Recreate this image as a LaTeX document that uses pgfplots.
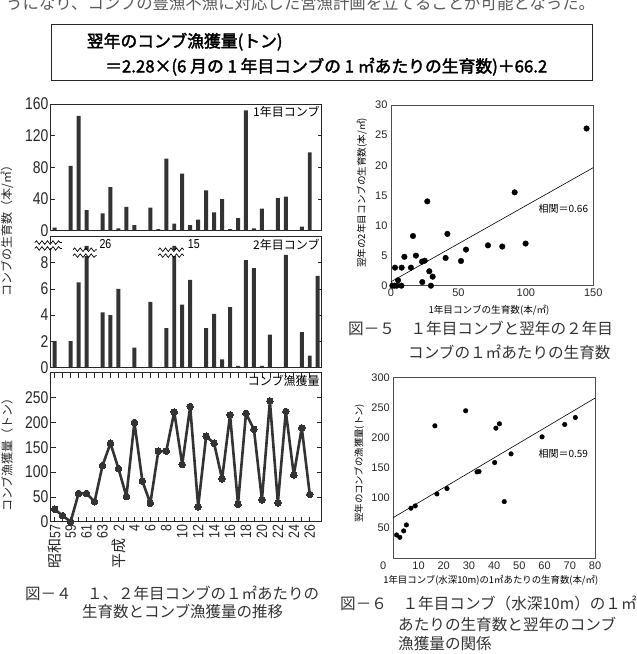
\documentclass[border=0pt]{standalone}
\usepackage{pgfplots}
\pgfplotsset{compat=1.18}
\usepackage{fontspec}
\setmainfont{Liberation Sans}
\newfontfamily\jp{Noto Sans CJK JP}
\newfontfamily\jpb[FakeBold=2.2]{Noto Sans CJK JP}
\newfontfamily\narrow[FakeStretch=0.82]{Liberation Sans}
\usetikzlibrary{decorations.pathmorphing}
\definecolor{barc}{HTML}{333333}
\newcommand{\brk}[4]{%
  \fill[white] (axis cs:#1,#3) rectangle (axis cs:#2,#4);
  \draw[line width=0.7pt, decorate, decoration={snake, amplitude=1.8pt, segment length=5.5pt}] (axis cs:#1,#3) -- (axis cs:#2,#3);
  \draw[line width=0.7pt, decorate, decoration={snake, amplitude=1.8pt, segment length=5.5pt}] (axis cs:#1,#4) -- (axis cs:#2,#4);}
\pgfplotsset{
  leftpanel/.style={anchor=south west, scale only axis, width=271pt,
    xmin=-0.5, xmax=33.5, ymin=0, tick align=inside, major tick length=4pt,
    axis line style={line width=0.9pt, black!85},
    tick style={line width=0.7pt, black!85},
    /pgf/number format/assume math mode=true,
    yticklabel style={font=\narrow\fontsize{17}{17}\selectfont, inner sep=2pt, text=black!85}},
  rightpanel/.style={anchor=south west, scale only axis, clip=false,
    tick style={draw=none},
    axis line style={line width=0.6pt, black!70},
    /pgf/number format/assume math mode=true,
    ticklabel style={font=\fontsize{11}{11}\selectfont, text=black!85}},
}
\begin{document}
\begin{tikzpicture}
\useasboundingbox (0pt,0pt) rectangle (637pt,654pt);

% clipped sentence at top
\node[anchor=west, inner sep=0pt, text=black!65, font=\jp\fontsize{16.4}{18}\selectfont] at (6pt,650.5pt) {うになり、コンブの豊漁不漁に対応した営漁計画を立てることが可能となった。};

% formula box
\draw[line width=0.8pt, black!85] (51.7pt,574pt) rectangle (592.7pt,630pt);
\node[anchor=west, inner sep=0pt, font=\jpb\fontsize{16.8}{18}\selectfont] at (86.7pt,612.3pt) {翌年のコンブ漁獲量(トン)};
\node[anchor=west, inner sep=0pt, font=\jpb\fontsize{16.8}{18}\selectfont] at (105pt,587.3pt) {＝2.28×(6 月の 1 年目コンブの 1 ㎡あたりの生育数)＋66.2};

% ---------- panel 1: first-year kelp ----------
\begin{axis}[leftpanel, at={(50.7pt,423.3pt)}, height=126.7pt, ymax=160,
  ytick={0,40,...,160}, xtick=\empty, ybar, bar width=0.5]
\addplot[fill=barc, draw=none] coordinates {
(0,4) (1,0) (2,82) (3,145) (4,26) (5,0) (6,22) (7,55) (8,3) (9,30) (10,7)
(11,0) (12,29) (13,2) (14,91) (15,9) (16,72) (17,7) (18,14) (19,51) (20,23)
(21,40) (22,2) (23,16) (24,152) (25,3) (26,28) (27,1) (28,41) (29,43) (30,0)
(31,5) (32,99)};
\node[anchor=north east, inner sep=2pt, font=\jp\fontsize{12}{12}\selectfont] at (rel axis cs:1,1) {1年目コンブ};
\end{axis}

% ---------- panel 2: second-year kelp ----------
\begin{axis}[leftpanel, at={(50.7pt,286.7pt)}, height=130.6pt, ymax=10,
  ytick={0,2,...,8}, xtick=\empty, ybar, bar width=0.5, clip=false]
\addplot[fill=barc, draw=none] coordinates {
(0,2.0) (1,0) (2,2.0) (3,6.5) (4,9.3) (5,0) (6,4.2) (7,4.0) (8,6.0) (9,0)
(10,1.5) (11,0) (12,5.0) (13,0) (14,3.0) (15,9.3) (16,4.8) (17,6.7) (18,0)
(19,3.0) (20,4.1) (21,0.6) (22,4.6) (23,0.1) (24,8.2) (25,7.6) (26,0.1)
(27,2.5) (28,0) (29,8.6) (30,0) (31,2.7) (32,0.9) (33,7.0)};
\brk{2.3}{5.3}{8.55}{9.0}
\brk{13.0}{16.2}{8.55}{9.0}
\brk{-2.5}{0.9}{9.1}{9.55}
\node[anchor=west, inner sep=0pt, font=\narrow\fontsize{13}{13}\selectfont] at (axis cs:5.6,9.45) {26};
\node[anchor=west, inner sep=0pt, font=\narrow\fontsize{13}{13}\selectfont] at (axis cs:16.7,9.45) {15};
\node[anchor=north east, inner sep=2pt, font=\jp\fontsize{12}{12}\selectfont] at (rel axis cs:1,1) {2年目コンブ};
\end{axis}

% ---------- panel 3: catch ----------
\begin{axis}[leftpanel, at={(50.7pt,132.3pt)}, height=149pt, ymax=300,
  ytick={0,50,...,250}, clip=false, major tick length=5pt,
  xtick={0,...,32},
  xticklabels={{\jp 昭和}57,,59,,61,,63,,{\jp 平成}\phantom{0}2,,4,,6,,8,,10,,12,,14,,16,,18,,20,,22,,24,,26},
  xticklabel style={rotate=90, anchor=east, inner sep=3pt, font=\narrow\fontsize{15}{15}\selectfont, text=black!85}]
\addplot[line width=2.6pt, color=barc, line join=round, line cap=round, mark=*, mark size=3.3pt, mark options={fill=barc, draw=barc, line width=0pt}] coordinates {
(0,25) (1,12) (2,0) (3,57) (4,57) (5,40) (6,113) (7,158) (8,107) (9,51)
(10,200) (11,82) (12,37) (13,142) (14,142) (15,221) (16,115) (17,232) (18,30)
(19,172) (20,158) (21,86) (22,215) (23,35) (24,218) (25,186) (26,44) (27,243)
(28,38) (29,222) (30,94) (31,189) (32,55)};
\node[anchor=north east, inner sep=2pt, font=\jp\fontsize{12}{12}\selectfont] at (rel axis cs:1,1) {コンブ漁獲量};
\end{axis}

% left y labels
\node[rotate=90, font=\jp\fontsize{12}{12}\selectfont, text=black!85] at (7pt,426pt) {コンブの生育数（本/㎡）};
\node[rotate=90, font=\jp\fontsize{12}{12}\selectfont, text=black!85] at (7pt,202pt) {コンブ漁獲量（トン）};

% ---------- Fig 5 ----------
\begin{axis}[rightpanel, at={(391pt,368.3pt)}, width=202.3pt, height=180.7pt,
  xmin=0, xmax=150, ymin=0, ymax=30, xtick={0,50,100,150}, ytick={0,5,...,30}]
\addplot[only marks, mark=*, mark size=2.8pt, black] coordinates {
(145,26.1) (91.7,15.5) (26.9,14.0) (16.3,8.25) (41.8,8.6) (71.9,6.7) (82.5,6.5)
(99.8,7.0) (55.6,6.0) (18.5,5.0) (9.9,4.8) (40.5,4.6) (51.9,4.1) (23,4.0)
(25,4.15) (3,3.0) (7.9,3.0) (14.8,3.0) (28.4,2.4) (30.9,1.5) (5.2,0.9)
(23.2,0.6) (1,0) (2.5,0) (4.2,0) (7.7,0) (29.6,0)};
\addplot[black, line width=0.6pt] coordinates {(0,0.66) (150,19.6)};
\node[font=\jp\fontsize{10}{10}\selectfont] at (axis cs:127.8,12.85) {相関＝0.66};
\end{axis}
\node[rotate=90, font=\jp\fontsize{9.6}{10}\selectfont] at (362pt,461pt) {翌年の2年目コンブの生育数(本/㎡)};
\node[font=\jp\fontsize{9.6}{10}\selectfont] at (489pt,344pt) {1年目コンブの生育数(本/㎡)};

% ---------- Fig 6 ----------
\begin{axis}[rightpanel, at={(393.3pt,95.7pt)}, width=201.7pt, height=181pt,
  xmin=0, xmax=80, ymin=0, ymax=300, xtick={0,10,...,80}, ytick={50,100,...,300},
  xticklabels={\llap{0\hspace{7pt}},10,20,30,40,50,60,70,80}]
\addplot[only marks, mark=*, mark size=2.3pt, black] coordinates {
(28.7,244.5) (16.5,219.6) (40.7,215.7) (42.1,222.9) (72.2,233.4) (68,221.8)
(59,201.3) (46.7,173.1) (40.2,158.7) (33.2,143.3) (34,143.8) (21.3,115.6)
(17.3,106.7) (44,94) (8.7,86.8) (7,83) (5.2,55.3) (4.1,45.4) (1.3,38.7) (2.6,34.8)};
\addplot[black, line width=0.6pt] coordinates {(0,67.5) (80,265.5)};
\node[font=\jp\fontsize{10}{10}\selectfont] at (axis cs:67.4,172.9) {相関＝0.59};
\end{axis}
\node[rotate=90, font=\jp\fontsize{9.4}{10}\selectfont] at (359.3pt,190.7pt) {翌年のコンブの漁獲量(トン)};
\node[font=\jp\fontsize{9.4}{10}\selectfont] at (490.8pt,74pt) {1年目コンブ(水深10m)の1㎡あたりの生育数(本/㎡)};

% captions
\node[anchor=west, inner sep=0pt, text=black!80, font=\jp\fontsize{15.5}{18}\selectfont] at (25pt,61pt) {図－４　１、２年目コンブの１㎡あたりの};
\node[anchor=west, inner sep=0pt, text=black!80, font=\jp\fontsize{15.5}{18}\selectfont] at (82pt,42pt) {生育数とコンブ漁獲量の推移};
\node[anchor=west, inner sep=0pt, text=black!80, font=\jp\fontsize{15.6}{18}\selectfont] at (348pt,326pt) {図－５　１年目コンブと翌年の２年目};
\node[anchor=west, inner sep=0pt, text=black!80, font=\jp\fontsize{15.6}{18}\selectfont] at (408pt,302pt) {コンブの１㎡あたりの生育数};
\node[anchor=west, inner sep=0pt, text=black!80, font=\jp\fontsize{15.6}{18}\selectfont] at (340pt,51pt) {図－６　１年目コンブ（水深10m）の１㎡};
\node[anchor=west, inner sep=0pt, text=black!80, font=\jp\fontsize{15.6}{18}\selectfont] at (398pt,30pt) {あたりの生育数と翌年のコンブ};
\node[anchor=west, inner sep=0pt, text=black!80, font=\jp\fontsize{15.6}{18}\selectfont] at (398pt,10pt) {漁獲量の関係};
\end{tikzpicture}
\end{document}
